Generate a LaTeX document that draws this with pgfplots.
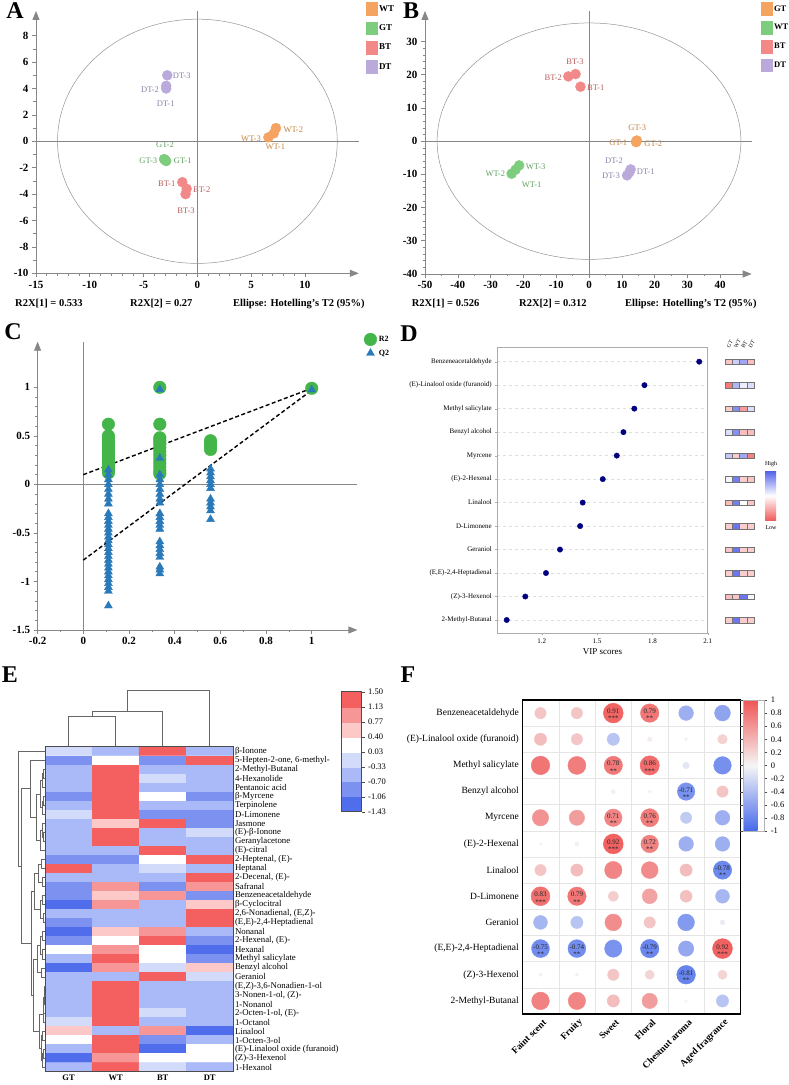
\documentclass[border=0pt]{standalone}
\usepackage{pgfplots}
\pgfplotsset{compat=1.18}
\usepackage{fontspec}
\setmainfont{Liberation Serif}
\usetikzlibrary{arrows.meta,calc}

\definecolor{cOr}{RGB}{244,164,96}
\definecolor{cGr}{RGB}{126,204,126}
\definecolor{cPk}{RGB}{242,136,136}
\definecolor{cPu}{RGB}{186,170,220}
\definecolor{tOr}{RGB}{196,128,58}
\definecolor{tGr}{RGB}{96,158,96}
\definecolor{tPk}{RGB}{181,90,90}
\definecolor{tPu}{RGB}{138,127,168}
\definecolor{cR2}{RGB}{68,181,73}
\definecolor{cQ2}{RGB}{42,122,185}
\definecolor{axgray}{RGB}{135,135,135}
\definecolor{navyd}{RGB}{0,0,128}

\newcommand\fs[1]{\fontsize{#1}{#1}\selectfont}

\pgfplotsset{
  every axis/.append style={scale only axis},
  /pgf/number format/assume math mode=true,
  colormap={fmap}{rgb255=(70,105,235) rgb255=(245,245,245) rgb255=(240,85,85)},
  colormap={dmap}{rgb255=(240,90,90) rgb255=(255,255,255) rgb255=(80,95,235)},
  colormap={emap}{rgb255=(80,110,235) rgb255=(125,145,240) rgb255=(170,185,248) rgb255=(210,220,250) rgb255=(255,255,255) rgb255=(252,200,200) rgb255=(246,150,150) rgb255=(244,96,96)},
  pca/.style={
    axis lines=left,
    axis line style={draw=axgray, line width=0.8pt, -{Triangle[length=9pt,width=7pt]}},
    tick style={draw=axgray, line width=0.6pt},
    tick align=outside, major tick length=4pt, minor tick length=2.5pt,
    tick label style={font=\fs{11}\bfseries},
    clip=false,
  },
  grp/.style={only marks, mark=*, mark size=5pt, color=#1, mark options={draw=none, fill=#1},
    legend image code/.code={\fill[#1] (0pt,-6pt) rectangle (10.5pt,6.5pt);}},
  dend/.style={draw=black!60, line width=0.7pt, mark=none, forget plot},
}
\newcommand\lk[5]{\addplot[dend] coordinates {(#1,#2) (#5,#2) (#5,#4) (#3,#4)};}

\begin{document}
\begin{tikzpicture}
% ---------------- canvas for text ----------------
\begin{axis}[at={(0pt,0pt)}, anchor=south west, width=789pt, height=1085pt,
  xmin=0, xmax=789, ymin=0, ymax=1085, y dir=reverse, hide axis, clip=false]
\node[font=\fs{24}\bfseries] at (axis cs:15,11) {A};
\node[font=\fs{24}\bfseries] at (axis cs:411,11) {B};
\node[font=\fs{24}\bfseries] at (axis cs:13,332) {C};
\node[font=\fs{24}\bfseries] at (axis cs:409,334) {D};
\node[font=\fs{24}\bfseries] at (axis cs:10,675) {E};
\node[font=\fs{24}\bfseries] at (axis cs:408,675) {F};
% A point labels
\node[font=\fs{8.5}, text=tPu] at (axis cs:181.7,76) {DT-3};
\node[font=\fs{8.5}, text=tPu] at (axis cs:150,89.3) {DT-2};
\node[font=\fs{8.5}, text=tPu] at (axis cs:165.7,104) {DT-1};
\node[font=\fs{8.5}, text=tGr] at (axis cs:165,144.7) {GT-2};
\node[font=\fs{8.5}, text=tGr] at (axis cs:148.3,160.3) {GT-3};
\node[font=\fs{8.5}, text=tGr] at (axis cs:182.7,160.3) {GT-1};
\node[font=\fs{8.5}, text=tPk] at (axis cs:166.7,183.3) {BT-1};
\node[font=\fs{8.5}, text=tPk] at (axis cs:201.7,190) {BT-2};
\node[font=\fs{8.5}, text=tPk] at (axis cs:186,210.7) {BT-3};
\node[font=\fs{8.5}, text=tOr] at (axis cs:293.3,129.3) {WT-2};
\node[font=\fs{8.5}, text=tOr] at (axis cs:251,138.7) {WT-3};
\node[font=\fs{8.5}, text=tOr] at (axis cs:275.3,147) {WT-1};
% B point labels
\node[font=\fs{8.5}, text=tPk] at (axis cs:575,61.7) {BT-3};
\node[font=\fs{8.5}, text=tPk] at (axis cs:553.3,77.3) {BT-2};
\node[font=\fs{8.5}, text=tPk] at (axis cs:595.7,87.3) {BT-1};
\node[font=\fs{8.5}, text=tOr] at (axis cs:637.3,127.3) {GT-3};
\node[font=\fs{8.5}, text=tOr] at (axis cs:618.3,142.7) {GT-1};
\node[font=\fs{8.5}, text=tOr] at (axis cs:653.3,144) {GT-2};
\node[font=\fs{8.5}, text=tPu] at (axis cs:614,160.7) {DT-2};
\node[font=\fs{8.5}, text=tPu] at (axis cs:645.7,171.7) {DT-1};
\node[font=\fs{8.5}, text=tPu] at (axis cs:611,176) {DT-3};
\node[font=\fs{8.5}, text=tGr] at (axis cs:535.7,166.7) {WT-3};
\node[font=\fs{8.5}, text=tGr] at (axis cs:495.3,174) {WT-2};
\node[font=\fs{8.5}, text=tGr] at (axis cs:531.7,184.3) {WT-1};
% R2X texts
\node[font=\fs{10.5}\bfseries, anchor=west, inner sep=0pt] at (axis cs:15,304) {R2X[1] = 0.533};
\node[font=\fs{10.5}\bfseries, anchor=west, inner sep=0pt] at (axis cs:130,304) {R2X[2] = 0.27};
\node[font=\fs{10.5}\bfseries, anchor=west, inner sep=0pt] at (axis cs:233,304) {Ellipse: Hotelling's T2 (95\%)};
\node[font=\fs{10.5}\bfseries, anchor=west, inner sep=0pt] at (axis cs:411.7,304) {R2X[1] = 0.526};
\node[font=\fs{10.5}\bfseries, anchor=west, inner sep=0pt] at (axis cs:519,304) {R2X[2] = 0.312};
\node[font=\fs{10.5}\bfseries, anchor=west, inner sep=0pt] at (axis cs:625,304) {Ellipse: Hotelling's T2 (95\%)};
% D heatmap column labels and colorbar labels
\node[font=\fs{5.5}, rotate=60, anchor=west, inner sep=0.5pt] at (axis cs:727.6,348) {GT};
\node[font=\fs{5.5}, rotate=60, anchor=west, inner sep=0.5pt] at (axis cs:734.9,348) {WT};
\node[font=\fs{5.5}, rotate=60, anchor=west, inner sep=0.5pt] at (axis cs:742.1,348) {BT};
\node[font=\fs{5.5}, rotate=60, anchor=west, inner sep=0.5pt] at (axis cs:749.4,348) {DT};
\node[font=\fs{6}] at (axis cs:771,464) {High};
\node[font=\fs{6}] at (axis cs:771,528) {Low};
\end{axis}

% ---------------- A ----------------
\begin{axis}[pca, at={(36pt,811.7pt)}, anchor=south west, width=322.8pt, height=262.3pt,
  xmin=-15, xmax=15, ymin=-10, ymax=9.87,
  xtick={-15,-10,-5,0,5,10}, minor x tick num=4,
  ytick={-10,-8,-6,-4,-2,0,2,4,6,8}, minor y tick num=1,
  legend cell align=left,
  legend style={at={(1.022,1.034)}, anchor=north west, draw=none, fill=none,
    font=\fs{9}\bfseries, row sep=6.5pt, inner sep=0pt}]
\draw[axgray, line width=0.6pt] (axis cs:0,-10) -- (axis cs:0,9.87);
\draw[axgray, line width=0.6pt] (axis cs:-15,0) -- (axis cs:15,0);
\draw[gray!85, line width=0.5pt] (axis cs:0,0) ellipse [x radius=13, y radius=9.25];
\addplot[grp=cOr] coordinates {(7.3,1.0) (7.1,0.6) (6.6,0.3)};
\addlegendentry{WT}
\addplot[grp=cGr] coordinates {(-3.0,-1.4) (-2.9,-1.5) (-3.1,-1.35)};
\addlegendentry{GT}
\addplot[grp=cPk] coordinates {(-1.4,-3.1) (-1.0,-3.6) (-1.1,-4.0)};
\addlegendentry{BT}
\addplot[grp=cPu] coordinates {(-2.8,5.0) (-2.9,4.0) (-2.9,4.2)};
\addlegendentry{DT}
\end{axis}

% ---------------- B ----------------
\begin{axis}[pca, at={(425pt,811pt)}, anchor=south west, width=326.7pt, height=263pt,
  xmin=-50, xmax=49.6, ymin=-40, ymax=39.2,
  xtick={-50,-40,-30,-20,-10,0,10,20,30,40}, minor x tick num=1,
  ytick={-40,-30,-20,-10,0,10,20,30}, minor y tick num=4,
  legend cell align=left,
  legend style={at={(1.0285,1.034)}, anchor=north west, draw=none, fill=none,
    font=\fs{8.5}\bfseries, row sep=6pt, inner sep=0pt}]
\draw[axgray, line width=0.6pt] (axis cs:0,-40) -- (axis cs:0,39.2);
\draw[axgray, line width=0.6pt] (axis cs:-50,0) -- (axis cs:49.6,0);
\draw[gray!85, line width=0.5pt] (axis cs:0,0) ellipse [x radius=46.3, y radius=35.6];
\addplot[grp=cOr] coordinates {(14.3,-0.1) (14.6,0.2) (14.4,-0.3)};
\addlegendentry{GT}
\addplot[grp=cGr] coordinates {(-21.3,-7.3) (-22.4,-8.6) (-23.6,-9.8)};
\addlegendentry{WT}
\addplot[grp=cPk] coordinates {(-6.3,19.5) (-4.1,20.2) (-2.6,16.4)};
\addlegendentry{BT}
\addplot[grp=cPu] coordinates {(12.7,-8.5) (12.3,-9.4) (11.6,-10.3)};
\addlegendentry{DT}
\end{axis}

% ---------------- C ----------------
\begin{axis}[pca, at={(37.6pt,455pt)}, anchor=south west, width=319.8pt, height=288.3pt,
  xmin=-0.2, xmax=1.2, ymin=-1.5, ymax=1.47,
  xtick={-0.2,0,0.2,0.4,0.6,0.8,1}, minor x tick num=1,
  ytick={-1.5,-1,-0.5,0,0.5,1}, minor y tick num=4,
  legend cell align=left,
  legend style={at={(1.0206,1.0302)}, anchor=north west, draw=none, fill=none,
    font=\fs{8}\bfseries, row sep=2pt, inner sep=0pt}]
\draw[axgray, line width=0.6pt] (axis cs:0,-1.5) -- (axis cs:0,1.47);
\draw[axgray, line width=0.6pt] (axis cs:-0.2,0) -- (axis cs:1.2,0);
\addplot[only marks, mark=*, mark size=6.3pt, color=cR2, mark options={draw=none, fill=cR2}] coordinates {
(0.11,0.62) (0.11,0.50) (0.11,0.48) (0.11,0.46) (0.11,0.44) (0.11,0.42) (0.11,0.40) (0.11,0.38) (0.11,0.36) (0.11,0.34) (0.11,0.32) (0.11,0.30) (0.11,0.28) (0.11,0.26) (0.11,0.24) (0.11,0.22) (0.11,0.20) (0.11,0.18) (0.11,0.16) (0.11,0.14) (0.11,0.12)
(0.335,1.00) (0.335,0.62) (0.335,0.48) (0.335,0.45) (0.335,0.42) (0.335,0.38) (0.335,0.34) (0.335,0.30) (0.335,0.26) (0.335,0.22) (0.335,0.18) (0.335,0.14) (0.335,0.11)
(0.557,0.45) (0.557,0.42) (0.557,0.39) (0.557,0.36)
(1,0.99)};
\addlegendentry{R2}
\addplot[only marks, mark=triangle*, mark size=4.6pt, color=cQ2, mark options={draw=none, fill=cQ2}] coordinates {
(0.11,0.15) (0.11,0.10) (0.11,0.05) (0.11,0.00) (0.11,-0.05) (0.11,-0.10) (0.11,-0.15) (0.11,-0.20) (0.11,-0.30) (0.11,-0.34) (0.11,-0.38) (0.11,-0.42) (0.11,-0.46) (0.11,-0.50) (0.11,-0.54) (0.11,-0.58) (0.11,-0.62) (0.11,-0.66) (0.11,-0.70) (0.11,-0.74) (0.11,-0.78) (0.11,-0.82) (0.11,-0.86) (0.11,-0.90) (0.11,-0.94) (0.11,-0.98) (0.11,-1.02) (0.11,-1.06) (0.11,-1.10) (0.11,-1.25)
(0.335,0.98) (0.335,0.27) (0.335,0.10) (0.335,0.05) (0.335,0.00) (0.335,-0.05) (0.335,-0.10) (0.335,-0.15) (0.335,-0.19) (0.335,-0.30) (0.335,-0.34) (0.335,-0.38) (0.335,-0.42) (0.335,-0.46) (0.335,-0.59) (0.335,-0.63) (0.335,-0.67) (0.335,-0.71) (0.335,-0.75) (0.335,-0.85) (0.335,-0.88) (0.335,-0.92)
(0.557,0.16) (0.557,0.12) (0.557,0.08) (0.557,0.04) (0.557,0.00) (0.557,-0.04) (0.557,-0.15) (0.557,-0.19) (0.557,-0.23) (0.557,-0.27) (0.557,-0.36)
(1,0.975)};
\addlegendentry{Q2}
\addplot[forget plot, black, line width=1.4pt, dash pattern=on 4pt off 2.5pt] coordinates {(0,0.1) (1,0.99)};
\addplot[forget plot, black, line width=1.4pt, dash pattern=on 4pt off 2.5pt] coordinates {(0,-0.78) (1,0.97)};
\end{axis}

% ---------------- D ----------------
\begin{axis}[at={(497.3pt,451.7pt)}, anchor=south west, width=210.4pt, height=285.6pt,
  xmin=0.959, xmax=2.1, ymin=0.434, ymax=12.596,
  axis line style={draw=gray!65, line width=0.6pt},
  xtick={1.2,1.5,1.8,2.1}, ytick={1,2,3,4,5,6,7,8,9,10,11,12},
  yticklabels={2-Methyl-Butanal,(Z)-3-Hexenol,{(E,E)-2,4-Heptadienal},Geraniol,D-Limonene,Linalool,(E)-2-Hexenal,Myrcene,Benzyl alcohol,Methyl salicylate,(E)-Linalool oxide (furanoid),Benzeneacetaldehyde},
  xtick pos=bottom, ytick pos=left, tick align=outside, major tick length=2pt,
  tick style={draw=gray!65},
  ymajorgrids, major grid style={dash pattern=on 3pt off 3pt, gray!25, line width=0.5pt},
  tick label style={font=\fs{7}},
  xlabel={VIP scores}, xlabel style={font=\fs{9}, inner sep=1pt}]
\addplot[only marks, mark=*, mark size=2.7pt, color=navyd] coordinates {
(2.054,12) (1.757,11) (1.702,10) (1.643,9) (1.607,8) (1.531,7) (1.422,6) (1.408,5) (1.299,4) (1.223,3) (1.111,2) (1.010,1)};
\end{axis}

% D mini heatmap
\begin{axis}[at={(725pt,451.7pt)}, anchor=south west, width=29pt, height=285.6pt,
  xmin=0.5, xmax=4.5, ymin=0.434, ymax=12.596, clip=false,
  axis line style={draw=none}, xtick=\empty, ytick=\empty,
  colormap name=dmap, point meta min=-1, point meta max=1,
  colorbar, colorbar style={at={($(parent axis.north east)+(2.5pt,-123pt)$)}, anchor=north west,
    width=11pt, height=50pt, ytick=\empty, xtick=\empty, axis line style={draw=none}}]
\addplot[scatter, only marks, mark=square*, mark size=2.85pt, point meta=explicit,
  scatter/use mapped color={draw=black!55, fill=mapped color},
  mark options={xscale=1.28, line width=0.3pt}] coordinates {
(1,12)[-0.35] (2,12)[0.3] (3,12)[0.55] (4,12)[-0.4]
(1,11)[-0.8] (2,11)[0.45] (3,11)[0.1] (4,11)[0.2]
(1,10)[-0.3] (2,10)[0.7] (3,10)[-0.6] (4,10)[0.2]
(1,9)[0.2] (2,9)[0.7] (3,9)[-0.4] (4,9)[-0.4]
(1,8)[0.35] (2,8)[-0.3] (3,8)[0.55] (4,8)[-0.75]
(1,7)[0.05] (2,7)[0.8] (3,7)[-0.3] (4,7)[-0.35]
(1,6)[-0.4] (2,6)[0.8] (3,6)[0.0] (4,6)[-0.35]
(1,5)[-0.3] (2,5)[0.85] (3,5)[-0.3] (4,5)[-0.3]
(1,4)[-0.35] (2,4)[0.85] (3,4)[-0.3] (4,4)[-0.3]
(1,3)[-0.3] (2,3)[0.85] (3,3)[-0.3] (4,3)[-0.3]
(1,2)[-0.4] (2,2)[-0.35] (3,2)[0.85] (4,2)[0.05]
(1,1)[-0.3] (2,1)[0.85] (3,1)[-0.3] (4,1)[-0.3]};
\end{axis}

% ---------------- E ----------------
\begin{axis}[at={(45pt,13.3pt)}, anchor=south west, width=188.3pt, height=325pt,
  xmin=0.5, xmax=4.5, ymin=0.5, ymax=36.5, y dir=reverse, clip=false,
  colormap name=emap, colormap access=direct,
  axis line style={draw=black!70, line width=0.6pt}, axis on top,
  xtick={1,2,3,4}, xticklabels={GT,WT,BT,DT},
  xticklabel style={font=\fs{8.5}\bfseries},
  ytick={1,...,36}, yticklabel pos=right,
  yticklabels={β-Ionone,{5-Hepten-2-one, 6-methyl-},2-Methyl-Butanal,4-Hexanolide,Pentanoic acid,β-Myrcene,Terpinolene,D-Limonene,Jasmone,(E)-β-Ionone,Geranylacetone,(E)-citral,{2-Heptenal, (E)-},Heptanal,{2-Decenal, (E)-},Safranal,Benzeneacetaldehyde,β-Cyclocitral,{2,6-Nonadienal, (E,Z)-},{(E,E)-2,4-Heptadienal},Nonanal,{2-Hexenal, (E)-},Hexanal,Methyl salicylate,Benzyl alcohol,Geraniol,{(E,Z)-3,6-Nonadien-1-ol},{3-Nonen-1-ol, (Z)-},1-Nonanol,{2-Octen-1-ol, (E)-},1-Octanol,Linalool,1-Octen-3-ol,(E)-Linalool oxide (furanoid),(Z)-3-Hexenol,1-Hexanol},
  yticklabel style={font=\fs{8.8}, inner sep=1.5pt},
  major tick length=0pt]
\addplot[matrix plot*, mesh/cols=4, point meta=explicit] coordinates {
(1,1)[3] (2,1)[2] (3,1)[7] (4,1)[2]
(1,2)[1] (2,2)[4] (3,2)[1] (4,2)[7]
(1,3)[2] (2,3)[7] (3,3)[2] (4,3)[2]
(1,4)[2] (2,4)[7] (3,4)[3] (4,4)[2]
(1,5)[2] (2,5)[7] (3,5)[2] (4,5)[2]
(1,6)[1] (2,6)[7] (3,6)[4] (4,6)[1]
(1,7)[2] (2,7)[7] (3,7)[2] (4,7)[2]
(1,8)[3] (2,8)[7] (3,8)[1] (4,8)[1]
(1,9)[2] (2,9)[5] (3,9)[7] (4,9)[1]
(1,10)[2] (2,10)[7] (3,10)[2] (4,10)[3]
(1,11)[2] (2,11)[7] (3,11)[2] (4,11)[2]
(1,12)[2] (2,12)[2] (3,12)[7] (4,12)[2]
(1,13)[1] (2,13)[1] (3,13)[4] (4,13)[7]
(1,14)[7] (2,14)[2] (3,14)[3] (4,14)[2]
(1,15)[2] (2,15)[2] (3,15)[2] (4,15)[7]
(1,16)[1] (2,16)[6] (3,16)[1] (4,16)[6]
(1,17)[1] (2,17)[5] (3,17)[6] (4,17)[1]
(1,18)[0] (2,18)[6] (3,18)[2] (4,18)[5]
(1,19)[2] (2,19)[2] (3,19)[2] (4,19)[7]
(1,20)[1] (2,20)[2] (3,20)[2] (4,20)[7]
(1,21)[0] (2,21)[5] (3,21)[6] (4,21)[2]
(1,22)[1] (2,22)[4] (3,22)[7] (4,22)[1]
(1,23)[4] (2,23)[6] (3,23)[4] (4,23)[0]
(1,24)[2] (2,24)[7] (3,24)[4] (4,24)[1]
(1,25)[0] (2,25)[6] (3,25)[3] (4,25)[5]
(1,26)[2] (2,26)[2] (3,26)[7] (4,26)[3]
(1,27)[2] (2,27)[7] (3,27)[2] (4,27)[2]
(1,28)[2] (2,28)[7] (3,28)[2] (4,28)[2]
(1,29)[2] (2,29)[7] (3,29)[2] (4,29)[2]
(1,30)[2] (2,30)[7] (3,30)[3] (4,30)[2]
(1,31)[3] (2,31)[7] (3,31)[2] (4,31)[2]
(1,32)[5] (2,32)[2] (3,32)[6] (4,32)[0]
(1,33)[4] (2,33)[7] (3,33)[1] (4,33)[2]
(1,34)[2] (2,34)[7] (3,34)[0] (4,34)[4]
(1,35)[0] (2,35)[6] (3,35)[4] (4,35)[4]
(1,36)[2] (2,36)[7] (3,36)[3] (4,36)[2]};
% column dendrogram
\addplot[dend] coordinates {(1,0.5) (1,-2.82) (2,-2.82) (2,0.5)};
\addplot[dend] coordinates {(1.5,-2.82) (1.5,-3.45) (3,-3.45) (3,0.5)};
\addplot[dend] coordinates {(2.25,-3.45) (2.25,-5.7) (4,-5.7) (4,0.5)};
\end{axis}

% E row dendrogram
\begin{axis}[at={(0pt,13.3pt)}, anchor=south west, width=45pt, height=325pt,
  xmin=0, xmax=45, ymin=0.5, ymax=36.5, y dir=reverse, hide axis, clip=false]
\lk{45}{3}{45}{4}{43.5}
\lk{43.5}{3.5}{45}{5}{42.5}
\lk{45}{6}{45}{7}{43}
\lk{43}{6.5}{45}{8}{42}
\lk{42.5}{4.25}{42}{7.25}{40.5}
\lk{45}{10}{45}{11}{43.5}
\lk{45}{9}{43.5}{10.5}{42}
\lk{42}{9.75}{45}{12}{40}
\lk{40.5}{5.75}{40}{10.875}{36}
\lk{45}{2}{36}{8.31}{30}
\lk{45}{13}{45}{14}{41}
\lk{45}{15}{45}{16}{42}
\lk{41}{13.5}{42}{15.5}{38}
\lk{45}{17}{45}{18}{42}
\lk{45}{19}{45}{20}{43.5}
\lk{42}{17.5}{43.5}{19.5}{40}
\lk{38}{14.5}{40}{18.5}{34}
\lk{45}{21}{45}{22}{42}
\lk{45}{23}{45}{24}{42.5}
\lk{42}{21.5}{42.5}{23.5}{40}
\lk{45}{25}{45}{26}{41}
\lk{40}{22.5}{41}{25.5}{37}
\lk{45}{27}{45}{28}{44.5}
\lk{44.5}{27.5}{45}{29}{44}
\lk{44}{28.25}{45}{30}{43.5}
\lk{43.5}{29.1}{45}{31}{43}
\lk{45}{32}{45}{33}{42.5}
\lk{45}{34}{45}{35}{43}
\lk{43}{34.5}{45}{36}{42}
\lk{42.5}{32.5}{42}{35.25}{41}
\lk{43}{30.1}{41}{33.9}{39}
\lk{37}{24}{39}{32}{33}
\lk{34}{16.5}{33}{28}{31}
\lk{30}{5.16}{31}{22.25}{21}
\lk{45}{1}{21}{13.7}{18}
\end{axis}

% E colour key
\begin{axis}[at={(341.7pt,273.3pt)}, anchor=south west, width=20pt, height=120pt,
  xmin=-0.5, xmax=1.5, ymin=-0.5, ymax=7.5,
  colormap name=emap, colormap access=direct,
  xtick=\empty, ytick={-0.5,0.5,1.5,2.5,3.5,4.5,5.5,6.5,7.5},
  yticklabels={-1.43,-1.06,-0.70,-0.33,0.03,0.40,0.77,1.13,1.50},
  ytick pos=right, yticklabel pos=right, tick align=outside, major tick length=3pt,
  tick style={draw=black!70},
  axis line style={draw=black!70, line width=0.6pt}, axis on top,
  yticklabel style={font=\fs{8.5}}]
\addplot[matrix plot*, mesh/cols=2, point meta=explicit] coordinates {
(0,0)[0] (1,0)[0] (0,1)[1] (1,1)[1] (0,2)[2] (1,2)[2] (0,3)[3] (1,3)[3]
(0,4)[4] (1,4)[4] (0,5)[5] (1,5)[5] (0,6)[6] (1,6)[6] (0,7)[7] (1,7)[7]};
\end{axis}

% ---------------- F ----------------
\begin{axis}[at={(522.3pt,71pt)}, anchor=south west, width=218.4pt, height=314pt,
  xmin=0.5, xmax=6.5, ymin=0.5, ymax=12.5, y dir=reverse,
  colormap name=fmap, point meta min=-1, point meta max=1,
  axis line style={draw=black, line width=1.1pt}, axis on top,
  xtick={1,2,3,4,5,6}, xticklabels={Faint scent,Fruity,Sweet,Floral,Chestnut aroma,Aged fragrance},
  xticklabel style={font=\fs{9.5}\bfseries, xshift=5pt, yshift=-6pt, rotate=45, anchor=east, inner sep=1pt},
  ytick={1,2,3,4,5,6,7,8,9,10,11,12},
  yticklabels={Benzeneacetaldehyde,(E)-Linalool oxide (furanoid),Methyl salicylate,Benzyl alcohol,Myrcene,(E)-2-Hexenal,Linalool,D-Limonene,Geraniol,{(E,E)-2,4-Heptadienal},(Z)-3-Hexenol,2-Methyl-Butanal},
  yticklabel style={font=\fs{9.5}},
  major tick length=0pt, minor tick length=0pt,
  minor xtick={1.5,2.5,3.5,4.5,5.5}, minor ytick={1.5,2.5,3.5,4.5,5.5,6.5,7.5,8.5,9.5,10.5,11.5},
  minor grid style={gray!20, line width=0.4pt}, xminorgrids, yminorgrids,
  colorbar, colorbar style={at={($(parent axis.north east)+(-5.9pt,0pt)$)}, anchor=north west,
    width=21pt, height=131pt, ytick={-1,-0.8,-0.6,-0.4,-0.2,0,0.2,0.4,0.6,0.8,1},
    yticklabel style={font=\fs{8.5}}, tick align=outside, major tick length=3pt,
    tick style={draw=black!70}, axis line style={draw=gray!60, line width=0.4pt}}]
\addplot[scatter, only marks, mark=*, point meta=explicit,
  scatter/use mapped color={draw=mapped color, fill=mapped color},
  visualization depends on={10.4*sqrt(abs(\thisrow{r})) \as \rad},
  scatter/@pre marker code/.append style={/tikz/mark size=\rad}]
  table[meta=r] {
x y r
1 1 0.30
2 1 0.30
3 1 0.91
4 1 0.79
5 1 -0.50
6 1 -0.58
1 2 0.35
2 2 0.30
3 2 -0.35
4 2 0.05
5 2 0.03
6 2 0.22
1 3 0.80
2 3 0.75
3 3 0.78
4 3 0.86
5 3 -0.10
6 3 -0.72
1 4 0.00
2 4 0.00
3 4 0.04
4 4 0.03
5 4 -0.71
6 4 0.30
1 5 0.62
2 5 0.55
3 5 0.71
4 5 0.76
5 5 -0.30
6 5 -0.50
1 6 0.02
2 6 0.04
3 6 0.92
4 6 0.72
5 6 -0.50
6 6 -0.50
1 7 0.30
2 7 0.35
3 7 0.70
4 7 0.66
5 7 0.35
6 7 -0.78
1 8 0.83
2 8 0.79
3 8 0.25
4 8 0.52
5 8 0.33
6 8 -0.45
1 9 -0.45
2 9 -0.35
3 9 0.65
4 9 0.30
5 9 -0.65
6 9 -0.06
1 10 -0.75
2 10 -0.74
3 10 -0.70
4 10 -0.79
5 10 -0.55
6 10 0.92
1 11 0.03
2 11 0.03
3 11 0.30
4 11 0.20
5 11 -0.81
6 11 0.20
1 12 0.72
2 12 0.70
3 12 0.35
4 12 0.55
5 12 0.02
6 12 -0.35
};
\addplot[draw=none, mark=none, point meta=explicit symbolic, nodes near coords,
  nodes near coords style={anchor=center, font=\fs{7}, text=black!85, yshift=1.8pt, inner sep=0pt}]
  table[meta=t] {
x y t
3 1 0.91
4 1 0.79
3 3 0.78
4 3 0.86
5 4 -0.71
3 5 0.71
4 5 0.76
3 6 0.92
4 6 0.72
6 7 -0.78
1 8 0.83
2 8 0.79
1 10 -0.75
2 10 -0.74
4 10 -0.79
6 10 0.92
5 11 -0.81
};
\addplot[draw=none, mark=none, point meta=explicit symbolic, nodes near coords,
  nodes near coords style={anchor=center, font=\fs{7}, text=black!85, yshift=-5.5pt, inner sep=0pt}]
  table[meta=t] {
x y t
3 1 ***
4 1 **
3 3 **
4 3 ***
5 4 **
3 5 **
4 5 **
3 6 ***
4 6 **
6 7 **
1 8 ***
2 8 **
1 10 **
2 10 **
4 10 **
6 10 ***
5 11 **
};
\end{axis}

\pgfresetboundingbox
\path[use as bounding box] (0pt,0pt) rectangle (789pt,1085pt);
\end{tikzpicture}
\end{document}
